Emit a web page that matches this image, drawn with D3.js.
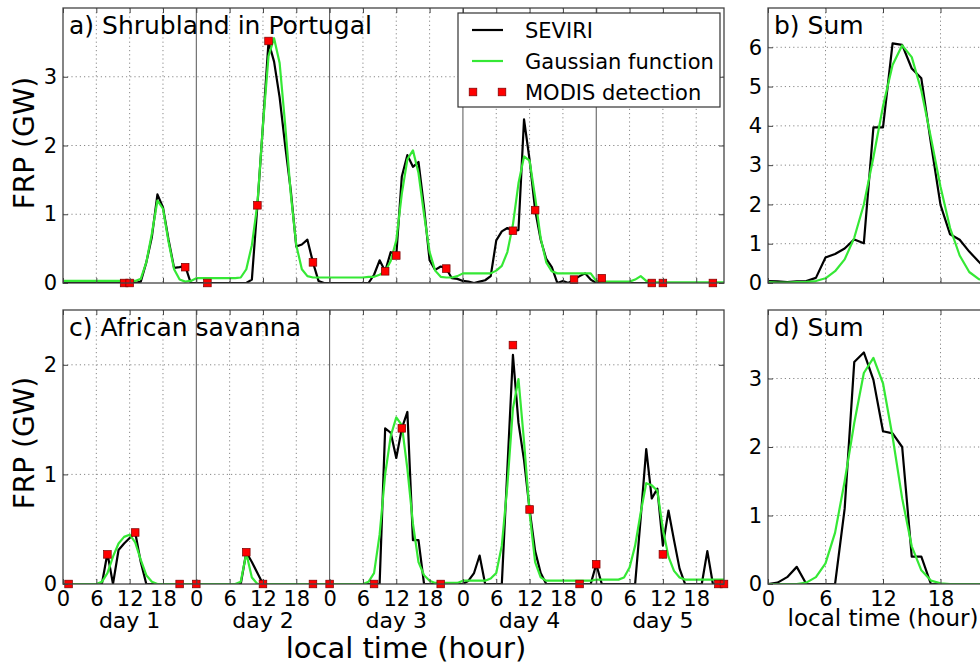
<!DOCTYPE html>
<html>
<head>
<meta charset="utf-8">
<script src="https://cdn.jsdelivr.net/npm/d3@7"></script>
<style>
  body { margin: 0; background: #fff; }
  text { font-family: "DejaVu Sans", sans-serif; fill: #000; }
</style>
</head>
<body>
<svg id="chart" width="980" height="669"></svg>
<script>
// hourly FRP (GW), five days, hour 0..119
var seviriA = [
  0, 0, 0, 0, 0, 0, 0, 0, 0, 0, 0, 0, 0, 0, 0.02, 0.3, 0.67, 1.29, 1.1, 0.63, 0.22, 0.23, 0.25, 0,
  0, 0, 0, 0, 0, 0, 0, 0, 0, 0, 0.05, 1.13, 2.3, 3.51, 3.22, 2.7, 2.0, 1.35, 0.53, 0.56, 0.63, 0.3, 0.03, 0,
  0, 0, 0, 0, 0, 0, 0, 0, 0.12, 0.33, 0.17, 0.45, 0.4, 1.55, 1.86, 1.69, 1.76, 1.1, 0.33, 0.19, 0.24, 0.21, 0.07, 0.06,
  0.03, 0.02, 0, 0.02, 0.04, 0.1, 0.62, 0.75, 0.8, 0.76, 0.77, 2.38, 1.79, 1.06, 0.63, 0.35, 0.23, 0, 0.03, 0, 0.05, 0.1, 0.14, 0.05,
  0, 0, 0, 0, 0, 0, 0, 0, 0, 0, 0, 0, 0, 0, 0, 0, 0, 0, 0, 0, 0, 0, 0, 0
];
var gaussA = [
  0.03, 0.03, 0.03, 0.03, 0.03, 0.03, 0.03, 0.03, 0.03, 0.03, 0.03, 0.03, 0.03, 0.03, 0.06, 0.3, 0.72, 1.2, 1.08, 0.6, 0.2, 0.05, 0.02, 0.03,
  0.07, 0.07, 0.07, 0.07, 0.07, 0.07, 0.07, 0.07, 0.08, 0.2, 0.55, 1.15, 2.3, 3.3, 3.56, 3.2, 2.3, 1.3, 0.55, 0.2, 0.1, 0.08, 0.08, 0.08,
  0.08, 0.08, 0.08, 0.08, 0.08, 0.08, 0.08, 0.09, 0.09, 0.12, 0.17, 0.32, 0.62, 1.3, 1.8, 1.93, 1.6, 1.0, 0.45, 0.18, 0.09, 0.08, 0.08, 0.1,
  0.14, 0.14, 0.14, 0.14, 0.14, 0.14, 0.18, 0.25, 0.45, 0.85, 1.45, 1.84, 1.78, 1.25, 0.65, 0.3, 0.17, 0.14, 0.14, 0.14, 0.14, 0.14, 0.14, 0.14,
  0.03, 0.02, 0.02, 0.02, 0.02, 0.02, 0.02, 0.05, 0.1, 0.03, 0.01, 0.01, 0.01, 0.01, 0.01, 0.01, 0.01, 0.01, 0.01, 0.01, 0.01, 0.01, 0.01, 0.01
];
var modisA = [
  [11, 0], [12, 0], [22, 0.23], [26, 0], [35, 1.13], [37, 3.52], [45, 0.3], [58, 0.17], [60, 0.4],
  [69, 0.21], [81, 0.76], [85, 1.06], [92, 0.05], [97, 0.07], [106, 0], [108, 0], [117, 0]
];

var seviriC = [
  0, 0, 0, 0, 0, 0, 0, 0, 0.28, 0, 0.31, 0.37, 0.42, 0.47, 0.2, 0, 0, 0, 0, 0, 0, 0, 0, 0,
  0, 0, 0, 0, 0, 0, 0, 0, 0, 0.29, 0.2, 0.1, 0, 0, 0, 0, 0, 0, 0, 0, 0, 0, 0, 0,
  0, 0, 0, 0, 0, 0, 0, 0, 0, 0, 1.42, 1.38, 1.15, 1.42, 1.57, 0.4, 0.4, 0, 0, 0, 0, 0, 0, 0,
  0, 0.03, 0.1, 0.26, 0, 0, 0, 0, 1.05, 2.09, 1.47, 1.13, 0.68, 0.3, 0.1, 0, 0, 0, 0, 0, 0, 0, 0, 0,
  0.18, 0, 0, 0, 0, 0, 0, 0, 0.6, 1.23, 0.78, 0.87, 0.35, 0.67, 0.4, 0.14, 0, 0, 0, 0, 0.3, 0, 0, 0
];
var gaussC = [
  0, 0, 0, 0, 0, 0, 0, 0.02, 0.1, 0.25, 0.37, 0.43, 0.45, 0.38, 0.22, 0.08, 0.02, 0, 0, 0, 0, 0, 0, 0,
  0, 0, 0, 0, 0, 0, 0, 0, 0.02, 0.28, 0.06, 0, 0, 0, 0, 0, 0, 0, 0, 0, 0, 0, 0, 0,
  0, 0, 0, 0, 0, 0, 0, 0.02, 0.1, 0.45, 1.0, 1.35, 1.52, 1.45, 1.05, 0.55, 0.2, 0.08, 0.03, 0.01, 0.01, 0.01, 0.01, 0.01,
  0.03, 0.03, 0.03, 0.03, 0.03, 0.05, 0.1, 0.35, 0.9, 1.6, 1.87, 1.3, 0.65, 0.2, 0.06, 0.03, 0.03, 0.03, 0.03, 0.03, 0.03, 0.03, 0.03, 0.03,
  0.04, 0.04, 0.04, 0.04, 0.04, 0.06, 0.15, 0.35, 0.65, 0.92, 0.9, 0.85, 0.5, 0.25, 0.12, 0.06, 0.04, 0.04, 0.04, 0.04, 0.04, 0.04, 0.04, 0.04
];
var modisC = [
  [1, 0], [8, 0.27], [13, 0.47], [21, 0], [24, 0], [33, 0.29], [36, 0], [45, 0], [48, 0], [56, 0],
  [61, 1.42], [68, 0], [81, 2.18], [84, 0.68], [93, 0], [96, 0.18], [108, 0.27], [118, 0], [119, 0]
];

// sum over the five days, hour 0..23
var seviriB = [0.05, 0.04, 0.02, 0.04, 0.05, 0.13, 0.65, 0.74, 0.88, 1.11, 1.01, 3.96, 3.96, 6.1, 6.06, 5.46, 5.21, 3.56, 1.99, 1.24, 1.1, 0.8, 0.54, 0.3];
var gaussB  = [0.02, 0.01, 0.01, 0.02, 0.03, 0.05, 0.12, 0.3, 0.6, 1.15, 2.0, 3.2, 4.5, 5.55, 6.05, 5.75, 4.9, 3.7, 2.45, 1.4, 0.7, 0.28, 0.1, 0.04];
var seviriD = [0, 0.02, 0.1, 0.25, 0, 0, 0, 0, 1.1, 3.24, 3.38, 2.98, 2.23, 2.2, 2.0, 0.4, 0.4, 0, 0, 0, 0, 0, 0, 0];
var gaussD  = [0, 0, 0, 0, 0.02, 0.1, 0.3, 0.75, 1.5, 2.35, 3.08, 3.3, 2.93, 2.15, 1.25, 0.55, 0.2, 0.05, 0.01, 0, 0, 0, 0, 0];

var dayLabels = ['day 1', 'day 2', 'day 3', 'day 4', 'day 5'];
var legendLabels = ['SEVIRI', 'Gaussian function', 'MODIS detection'];

var BLACK = '#000', GREEN = '#35e835', RED = '#ff0000';

var svg = d3.select('#chart');

function drawPanel(p) {
    var x = d3.scaleLinear().domain(p.xDomain).range([p.left, p.right]),
        y = d3.scaleLinear().domain(p.yDomain).range([p.bottom, p.top]),
        g = svg.append('g'),
        xTicks = d3.range(p.xDomain[0], p.xDomain[1], 6);

    g.append('clipPath').attr('id', 'clip-' + p.id)
        .append('rect')
        .attr('x', p.left).attr('y', p.top)
        .attr('width', p.right - p.left).attr('height', p.bottom - p.top);

    // grid: dotted every 6 h, solid at day change
    g.selectAll('.vgrid').data(xTicks.filter(function(t) { return t > 0; }))
        .enter().append('line')
        .attr('x1', function(d) { return x(d); }).attr('x2', function(d) { return x(d); })
        .attr('y1', p.top).attr('y2', p.bottom)
        .attr('stroke', function(d) { return p.days && d % 24 === 0 ? '#555' : '#888'; })
        .attr('stroke-width', 1)
        .attr('stroke-dasharray', function(d) { return p.days && d % 24 === 0 ? null : '1.2,3'; });

    g.selectAll('.hgrid').data(p.yTicks.filter(function(t) { return t > 0; }))
        .enter().append('line')
        .attr('x1', p.left).attr('x2', p.right)
        .attr('y1', function(d) { return y(d); }).attr('y2', function(d) { return y(d); })
        .attr('stroke', '#888').attr('stroke-width', 1)
        .attr('stroke-dasharray', '1.2,3');

    var line = d3.line()
        .x(function(d, i) { return x(i); })
        .y(function(d) { return y(d); });

    var plot = g.append('g').attr('clip-path', 'url(#clip-' + p.id + ')');
    plot.append('path').datum(p.seviri)
        .attr('d', line).attr('fill', 'none')
        .attr('stroke', BLACK).attr('stroke-width', 2.2).attr('stroke-linejoin', 'round');
    plot.append('path').datum(p.gauss)
        .attr('d', line).attr('fill', 'none')
        .attr('stroke', GREEN).attr('stroke-width', 2.2).attr('stroke-linejoin', 'round');

    if (p.modis) {
        g.selectAll('.modis').data(p.modis)
            .enter().append('rect')
            .attr('x', function(d) { return x(d[0]) - 3.8; })
            .attr('y', function(d) { return y(d[1]) - 3.8; })
            .attr('width', 7.6).attr('height', 7.6)
            .attr('fill', RED).attr('stroke', '#7a0000').attr('stroke-width', 0.7);
    }

    // axes, ticks pointing inwards on all four sides
    var yAxis = d3.axisLeft(y).tickValues(p.yTicks).tickFormat(d3.format('d'))
            .tickSizeInner(-5).tickSizeOuter(0).tickPadding(6),
        yAxisR = d3.axisRight(y).tickValues(p.yTicks).tickFormat('')
            .tickSizeInner(-5).tickSizeOuter(0),
        xAxis = d3.axisBottom(x).tickValues(xTicks)
            .tickFormat(p.showX ? function(d) { return d % 24; } : '')
            .tickSizeInner(-5).tickSizeOuter(0).tickPadding(7),
        xAxisT = d3.axisTop(x).tickValues(xTicks).tickFormat('')
            .tickSizeInner(-5).tickSizeOuter(0);

    [[yAxis, 'translate(' + p.left + ',0)'], [yAxisR, 'translate(' + p.right + ',0)'],
     [xAxis, 'translate(0,' + p.bottom + ')'], [xAxisT, 'translate(0,' + p.top + ')']]
        .forEach(function(a) {
            var ax = g.append('g').attr('transform', a[1]).call(a[0]);
            ax.select('.domain').remove();
            ax.selectAll('line').attr('stroke', '#444');
            ax.selectAll('text').attr('font-size', 21).attr('font-family', '"DejaVu Sans", sans-serif').attr('fill', '#000');
        });

    g.append('rect')
        .attr('x', p.left).attr('y', p.top)
        .attr('width', p.right - p.left).attr('height', p.bottom - p.top)
        .attr('fill', 'none').attr('stroke', '#444').attr('stroke-width', 1.3);

    g.append('text')
        .attr('x', p.left + 6).attr('y', p.top + 26)
        .attr('font-size', 25)
        .text(p.title);

    return { x: x, y: y, g: g };
}

var panelA = drawPanel({
    id: 'a', title: 'a) Shrubland in Portugal',
    left: 63, right: 724, top: 8, bottom: 283,
    xDomain: [0, 119], yDomain: [0, 4], yTicks: [0, 1, 2, 3],
    days: true, showX: false,
    seviri: seviriA, gauss: gaussA, modis: modisA
});
var panelC = drawPanel({
    id: 'c', title: 'c) African savanna',
    left: 63, right: 724, top: 310, bottom: 584,
    xDomain: [0, 119], yDomain: [0, 2.5], yTicks: [0, 1, 2],
    days: true, showX: true,
    seviri: seviriC, gauss: gaussC, modis: modisC
});
drawPanel({
    id: 'b', title: 'b) Sum',
    left: 768, right: 998, top: 8, bottom: 283,
    xDomain: [0, 24], yDomain: [0, 7], yTicks: [0, 1, 2, 3, 4, 5, 6],
    days: false, showX: false,
    seviri: seviriB, gauss: gaussB
});
drawPanel({
    id: 'd', title: 'd) Sum',
    left: 768, right: 998, top: 310, bottom: 584,
    xDomain: [0, 24], yDomain: [0, 4], yTicks: [0, 1, 2, 3],
    days: false, showX: true,
    seviri: seviriD, gauss: gaussD
});

// day labels under panel c
svg.selectAll('.day').data(dayLabels)
    .enter().append('text')
    .attr('x', function(d, i) { return panelC.x(12 + 24 * i); })
    .attr('y', 628)
    .attr('text-anchor', 'middle')
    .attr('font-size', 22)
    .text(function(d) { return d; });

// axis titles
svg.append('text').attr('x', 406).attr('y', 658)
    .attr('text-anchor', 'middle').attr('font-size', 29)
    .text('local time (hour)');
svg.append('text').attr('x', 883).attr('y', 626)
    .attr('text-anchor', 'middle').attr('font-size', 23)
    .text('local time (hour)');
[[143, 'FRP (GW)'], [443, 'FRP (GW)']].forEach(function(d) {
    svg.append('text')
        .attr('transform', 'translate(34,' + d[0] + ') rotate(-90)')
        .attr('text-anchor', 'middle').attr('font-size', 28)
        .text(d[1]);
});

// legend in panel a
var legend = svg.append('g');
legend.append('rect')
    .attr('x', 458).attr('y', 13).attr('width', 262).attr('height', 94)
    .attr('fill', '#fff').attr('stroke', '#333').attr('stroke-width', 1.2);
var rows = legend.selectAll('.row').data(legendLabels)
    .enter().append('g')
    .attr('transform', function(d, i) { return 'translate(0,' + (30 + i * 31) + ')'; });
rows.filter(function(d, i) { return i < 2; }).append('line')
    .attr('x1', 472).attr('x2', 503)
    .attr('stroke', function(d, i) { return i === 0 ? BLACK : GREEN; })
    .attr('stroke-width', 2.2);
rows.filter(function(d, i) { return i === 2; }).selectAll('rect')
    .data([473, 502]).enter().append('rect')
    .attr('x', function(d) { return d - 3.8; }).attr('y', -3.8)
    .attr('width', 7.6).attr('height', 7.6)
    .attr('fill', RED).attr('stroke', '#7a0000').attr('stroke-width', 0.7);
rows.append('text')
    .attr('x', 525).attr('y', 8)
    .attr('font-size', 21)
    .text(function(d) { return d; });
</script>
</body>
</html>
